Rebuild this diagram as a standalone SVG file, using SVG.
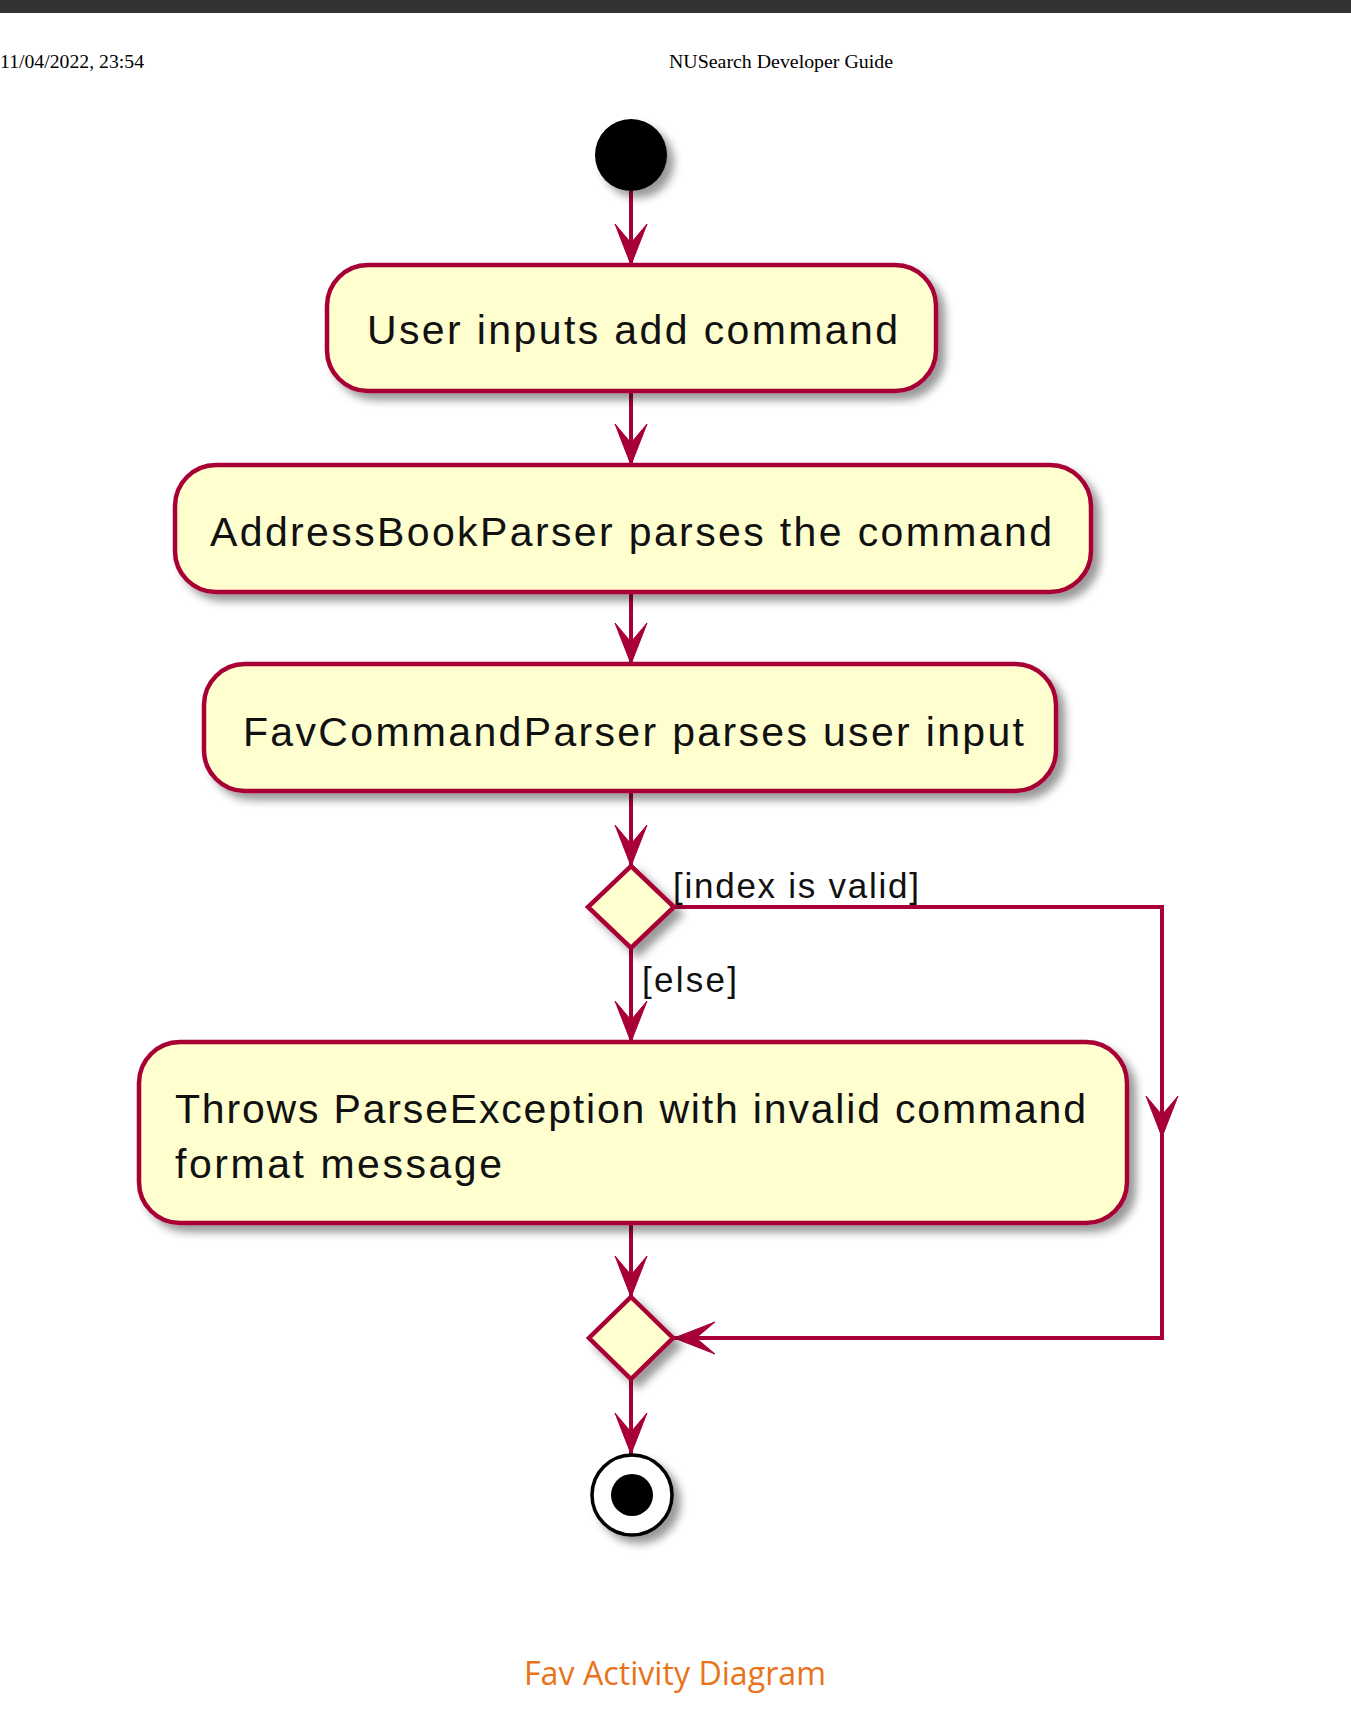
<svg xmlns="http://www.w3.org/2000/svg" width="1351" height="1712" viewBox="0 0 1351 1712">
<defs>
<style>
.node{fill:#FEFECE;stroke:#A80036;stroke-width:4.5;filter:url(#sh)}
.lbl{font-family:"Liberation Sans",Arial,sans-serif;font-size:41px;fill:#111}
.guard{font-family:"Liberation Sans",Arial,sans-serif;font-size:35px;fill:#111}
.conn{fill:none;stroke:#A80036;stroke-width:4}
.hdr{font-family:"Liberation Serif","Times New Roman",serif;font-size:19.5px;fill:#000}
</style>
<filter id="sh" x="-20%" y="-20%" width="150%" height="160%">
<feDropShadow dx="7" dy="7" stdDeviation="4" flood-color="#000" flood-opacity="0.4"/>
</filter>
<marker id="ah" viewBox="-42 -20 44 40" refX="0" refY="0" markerWidth="44" markerHeight="40" markerUnits="userSpaceOnUse" orient="auto">
<path d="M0,0 L-41,-16 L-22,0 L-41,16 Z" fill="#A80036" stroke="#A80036" stroke-width="1"/>
</marker>
</defs>
<rect x="0" y="0" width="1351" height="1712" fill="#fff"/>
<rect x="0" y="0" width="1351" height="13" fill="#333"/>
<text class="hdr" x="0" y="68" textLength="144" lengthAdjust="spacingAndGlyphs">11/04/2022, 23:54</text>
<text class="hdr" x="669" y="68" textLength="224" lengthAdjust="spacingAndGlyphs">NUSearch Developer Guide</text>

<g id="connectors">
<path class="conn" d="M631,191 V265" marker-end="url(#ah)"/>
<path class="conn" d="M631,392 V465" marker-end="url(#ah)"/>
<path class="conn" d="M631,592 V664" marker-end="url(#ah)"/>
<path class="conn" d="M631,791 V866" marker-end="url(#ah)"/>
<path class="conn" d="M631,948 V1042" marker-end="url(#ah)"/>
<path class="conn" d="M674,907 H1162 V1137" marker-end="url(#ah)"/>
<path class="conn" d="M1162,1135 V1338 H674" marker-end="url(#ah)"/>
<path class="conn" d="M631,1223 V1297" marker-end="url(#ah)"/>
<path class="conn" d="M631,1379 V1454" marker-end="url(#ah)"/>
<text class="guard" x="673" y="898" textLength="246" lengthAdjust="spacing">[index is valid]</text>
<text class="guard" x="642" y="992" textLength="95" lengthAdjust="spacing">[else]</text>
</g>

<g id="start">
<circle cx="631" cy="155" r="36" fill="#000" filter="url(#sh)"/>
</g>

<g id="n1">
<rect class="node" x="327" y="265" width="609" height="126" rx="41" ry="41"/>
<text class="lbl" x="367" y="344" textLength="531" lengthAdjust="spacing">User inputs add command</text>
</g>

<g id="n2">
<rect class="node" x="175" y="465" width="916" height="127" rx="41" ry="41"/>
<text class="lbl" x="210" y="546" textLength="842" lengthAdjust="spacing">AddressBookParser parses the command</text>
</g>

<g id="n3">
<rect class="node" x="204" y="664" width="852" height="127" rx="41" ry="41"/>
<text class="lbl" x="243" y="746" textLength="781" lengthAdjust="spacing">FavCommandParser parses user input</text>
</g>

<g id="d1">
<polygon class="node" points="631,866 674,907 631,948 588,907"/>
</g>

<g id="n4">
<rect class="node" x="139" y="1042" width="988" height="181" rx="41" ry="41"/>
<text class="lbl" x="175" y="1123" textLength="911" lengthAdjust="spacing">Throws ParseException with invalid command</text>
<text class="lbl" x="175" y="1178" textLength="327" lengthAdjust="spacing">format message</text>
</g>

<g id="d2">
<polygon class="node" points="631,1297 673,1338 631,1379 589,1338"/>
</g>

<g id="end">
<circle cx="632" cy="1495" r="40" fill="#fff" stroke="#000" stroke-width="3.5" filter="url(#sh)"/>
<circle cx="632" cy="1495" r="21" fill="#000"/>
</g>

<text x="675" y="1685" text-anchor="middle" font-family="'Open Sans','Noto Sans',sans-serif" font-size="32" fill="#E8731A" textLength="302" lengthAdjust="spacingAndGlyphs">Fav Activity Diagram</text>
</svg>
